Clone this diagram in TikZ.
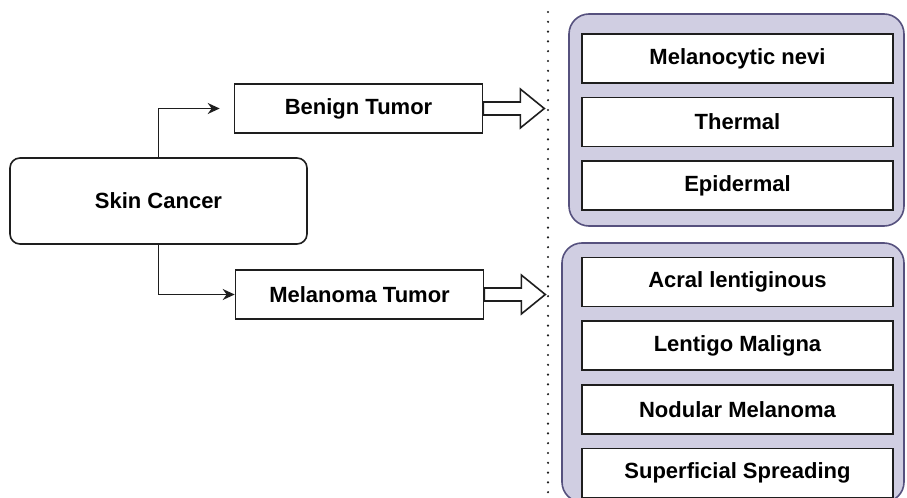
\documentclass[tikz,border=0pt]{standalone}
\usepackage{fontspec}
\setmainfont{Liberation Sans}
\usepackage{tikz}
\usetikzlibrary{arrows.meta,positioning,backgrounds}
\definecolor{ink}{RGB}{30,30,30}
\definecolor{grpfill}{RGB}{208,206,226}
\definecolor{grpline}{RGB}{86,81,126}
\tikzset{
  root/.style={draw=ink,rounded corners=5pt,fill=white,line width=0.8pt,
    minimum width=148.5pt,minimum height=43pt,font=\fontsize{11}{13}\selectfont\bfseries},
  tumor/.style={draw=ink,fill=white,line width=0.8pt,minimum width=124pt,
    minimum height=24.5pt,font=\fontsize{11}{13}\selectfont\bfseries},
  kind/.style={draw=ink,fill=white,line width=0.8pt,minimum width=155.5pt,
    minimum height=24.5pt,font=\fontsize{11}{13}\selectfont\bfseries},
  grp/.style={draw=grpline,fill=grpfill,rounded corners=10pt,line width=0.8pt},
  arr/.style={-{Stealth[length=6pt,width=5.5pt]},line width=0.8pt,ink},
  fat/.style={draw=ink,fill=white,line width=0.8pt,line join=miter},
  sep/.style={ink,line width=1.2pt,line cap=round,dash pattern=on 0pt off 4.9pt},
}
% block arrow leaving the east side of a node
\newcommand{\fatarrow}[1]{%
  \draw[fat] (#1.east) ++(0,-6.5) -- ++(37,0) -- ++(0,-13) -- ++(24,19.5)
    -- ++(-24,19.5) -- ++(0,-13) -- ++(-37,0) -- cycle;}

\begin{document}
\begin{tikzpicture}[x=0.5pt,y=-0.5pt,node distance=6.5pt]
\useasboundingbox (0,0) rectangle (907,498);

\node[root] (skin) at (158.5,201) {Skin Cancer};
\node[tumor] (benign) at (358.5,108.5) {Benign Tumor};
\node[tumor] (melanoma) at (359.5,294.5) {Melanoma Tumor};

% benign kinds
\node[kind] (nevi) at (737.5,58.5) {Melanocytic nevi};
\node[kind,below=of nevi] (thermal) {Thermal};
\node[kind,below=of thermal] (epi) {Epidermal};

% melanoma kinds
\node[kind] (acral) at (737.5,282) {Acral lentiginous};
\node[kind,below=of acral] (lentigo) {Lentigo Maligna};
\node[kind,below=of lentigo] (nodular) {Nodular Melanoma};
\node[kind,below=of nodular] (spread) {Superficial Spreading};

\begin{scope}[on background layer]
  \draw[grp] (569,14) rectangle (904,226);
  \draw[grp] (562,243) rectangle (904,502);
\end{scope}

\coordinate (sepTop) at (548,12);
\coordinate (sepBot) at (548,498);
\draw[sep] (sepTop) -- (sepBot);

\draw[arr,shorten >=7pt] (skin.north) |- (benign.west);
\draw[arr] (skin.south) |- (melanoma.west);
\fatarrow{benign}
\fatarrow{melanoma}
\end{tikzpicture}
\end{document}
